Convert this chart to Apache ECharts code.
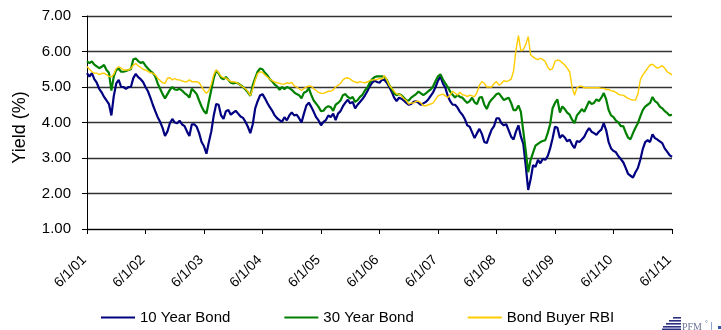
<!DOCTYPE html>
<html>
<head>
<meta charset="utf-8">
<script src="https://cdn.jsdelivr.net/npm/echarts@6/dist/echarts.min.js"></script>
<style>
  html, body { margin: 0; padding: 0; background: #fff; }
  #chart { width: 721px; height: 330px; }
</style>
</head>
<body>
<div id="chart"></div>
<script>
// Half-monthly yields (1st and 16th of each month), 6/1/2001 through 6/1/2011.
const startYear = 2001;
const startMonth = 6;

const tenYear = [
  5.39,5.29,5.39,5.22,5.12,4.95,4.85,4.72,4.62,4.52,4.2,4.75,5.1,5.2,5.0,5.0,4.95,5.0,5.0,5.25,5.37,5.28,5.22,5.14,
  5.0,4.88,4.7,4.5,4.32,4.15,4.02,3.85,3.62,3.75,3.98,4.1,4.0,3.98,4.05,3.95,3.9,3.75,3.62,3.95,3.95,3.88,3.7,3.45,
  3.33,3.12,3.45,3.75,4.2,4.52,4.5,4.2,4.1,4.32,4.35,4.22,4.28,4.33,4.25,4.17,4.13,4.02,3.88,3.7,3.95,4.4,4.6,4.76,
  4.8,4.68,4.55,4.43,4.33,4.2,4.12,4.07,4.02,4.15,4.06,4.2,4.28,4.2,4.22,4.12,4.0,4.25,4.48,4.56,4.44,4.3,4.15,4.06,
  3.92,4.02,4.07,4.2,4.15,4.25,4.07,4.25,4.32,4.46,4.56,4.64,4.54,4.58,4.4,4.5,4.58,4.66,4.76,4.88,5.02,5.12,5.18,5.14,
  5.12,5.2,5.2,5.12,5.0,4.87,4.7,4.6,4.7,4.67,4.62,4.55,4.5,4.52,4.58,4.6,4.55,4.5,4.54,4.58,4.65,4.75,4.85,5.0,
  5.18,5.3,5.1,4.98,4.75,4.6,4.5,4.5,4.42,4.3,4.22,4.1,3.92,3.88,3.72,3.56,3.7,3.82,3.68,3.45,3.42,3.62,3.8,3.9,
  4.12,4.12,3.98,3.92,3.95,3.78,3.6,3.52,3.75,3.92,3.6,3.4,2.78,2.1,2.4,2.8,2.75,2.95,2.85,2.98,2.95,3.05,3.27,3.55,
  3.88,3.85,3.56,3.65,3.58,3.47,3.52,3.38,3.28,3.48,3.45,3.52,3.6,3.74,3.84,3.74,3.7,3.65,3.74,3.8,3.98,3.78,3.45,3.27,
  3.2,3.16,3.05,2.97,2.88,2.72,2.55,2.5,2.45,2.6,2.72,2.95,3.25,3.45,3.5,3.45,3.67,3.56,3.52,3.47,3.42,3.27,3.18,3.08,
  3.03
];

const thirtyYear = [
  5.72,5.67,5.72,5.63,5.58,5.53,5.57,5.62,5.48,5.4,4.9,5.3,5.48,5.52,5.43,5.43,5.45,5.48,5.5,5.78,5.8,5.73,5.68,5.7,
  5.6,5.52,5.45,5.4,5.3,5.1,4.95,4.8,4.68,4.8,4.92,5.0,4.93,4.92,4.95,4.9,4.83,4.78,4.7,4.95,4.88,4.8,4.62,4.45,
  4.32,4.25,4.6,4.92,5.25,5.47,5.38,5.26,5.22,5.28,5.2,5.12,5.1,5.12,5.1,5.05,5.0,4.93,4.85,4.75,5.05,5.25,5.43,5.52,
  5.5,5.4,5.33,5.22,5.16,5.07,5.02,4.92,5.0,4.94,5.0,4.97,4.92,4.85,4.8,4.77,4.68,4.84,4.87,4.96,4.78,4.62,4.53,4.44,
  4.32,4.33,4.42,4.46,4.43,4.33,4.5,4.55,4.62,4.77,4.8,4.72,4.67,4.72,4.58,4.63,4.72,4.78,4.9,4.98,5.12,5.22,5.28,5.3,
  5.3,5.3,5.28,5.2,5.05,4.95,4.82,4.77,4.8,4.77,4.7,4.62,4.62,4.7,4.75,4.8,4.87,4.82,4.77,4.82,4.88,4.93,5.02,5.17,
  5.3,5.36,5.22,5.1,5.0,4.87,4.78,4.7,4.78,4.72,4.7,4.62,4.55,4.6,4.7,4.57,4.52,4.7,4.72,4.5,4.38,4.55,4.65,4.72,
  4.8,4.82,4.73,4.63,4.67,4.7,4.55,4.35,4.35,4.48,4.3,3.75,3.2,2.6,2.95,3.15,3.35,3.4,3.45,3.48,3.5,3.7,3.95,4.4,
  4.55,4.65,4.28,4.45,4.38,4.28,4.22,4.08,3.98,4.2,4.28,4.38,4.3,4.45,4.6,4.52,4.55,4.65,4.6,4.7,4.83,4.65,4.35,4.2,
  4.15,4.05,4.0,3.9,3.9,3.72,3.57,3.53,3.7,3.85,3.98,4.17,4.35,4.45,4.5,4.55,4.72,4.6,4.55,4.45,4.4,4.32,4.27,4.2,
  4.22
];

const bondBuyerRBI = [
  5.58,5.5,5.43,5.39,5.39,5.35,5.38,5.39,5.35,5.3,5.29,5.36,5.52,5.57,5.53,5.48,5.48,5.48,5.52,5.62,5.66,5.6,5.55,5.5,
  5.48,5.44,5.4,5.39,5.34,5.25,5.18,5.12,5.1,5.25,5.26,5.2,5.24,5.2,5.2,5.17,5.15,5.15,5.2,5.15,5.15,5.15,5.12,5.02,
  4.9,4.82,4.9,5.08,5.35,5.48,5.4,5.3,5.26,5.25,5.2,5.15,5.15,5.13,5.1,5.05,5.0,4.95,4.87,4.76,4.95,5.2,5.38,5.43,
  5.41,5.34,5.28,5.22,5.18,5.14,5.12,5.1,5.08,5.08,5.12,5.1,5.13,5.03,5.0,4.95,4.9,4.96,5.0,5.03,5.02,4.95,4.9,4.85,
  4.82,4.82,4.85,4.88,4.88,4.92,5.0,5.05,5.1,5.2,5.25,5.26,5.22,5.17,5.14,5.12,5.15,5.13,5.12,5.14,5.18,5.2,5.2,5.21,
  5.24,5.22,5.32,5.2,5.05,4.97,4.88,4.8,4.8,4.75,4.67,4.62,4.52,4.55,4.55,4.6,4.6,4.55,4.47,4.47,4.5,4.52,4.55,4.65,
  4.75,4.78,4.8,4.75,4.7,4.78,4.88,4.83,4.77,4.85,4.78,4.77,4.73,4.77,4.75,4.73,4.85,5.05,5.15,5.1,5.0,5.0,5.0,5.1,
  5.15,5.05,5.1,5.18,5.15,5.18,5.22,5.45,6.05,6.45,6.02,6.05,6.2,6.42,5.9,5.85,5.8,5.77,5.81,5.77,5.72,5.56,5.48,5.52,
  5.72,5.76,5.74,5.68,5.62,5.53,5.43,5.0,4.77,4.98,5.02,5.02,4.98,4.98,4.98,4.98,4.98,4.98,4.98,4.96,4.96,4.93,4.93,4.9,
  4.88,4.85,4.8,4.77,4.77,4.72,4.68,4.65,4.63,4.63,4.8,5.2,5.34,5.43,5.53,5.62,5.64,5.58,5.53,5.56,5.6,5.53,5.43,5.39,
  5.34
];

const seriesNames = ['10 Year Bond', '30 Year Bond', 'Bond Buyer RBI'];
const seriesColors = ['#000080', '#008000', '#FFCC00'];

// Observation dates: the 1st and the 16th of every month.
const dates = tenYear.map((_, i) => {
  const m0 = startMonth - 1 + Math.floor(i / 2);
  const y = startYear + Math.floor(m0 / 12);
  const m = (m0 % 12) + 1;
  const d = i % 2 === 0 ? 1 : 16;
  return y + '-' + String(m).padStart(2, '0') + '-' + String(d).padStart(2, '0');
});

const isAnniversary = (i) => i % 24 === 0;
const shortDate = (s) => {
  const [y, m, d] = s.split('-');
  return Number(m) + '/' + Number(d) + '/' + y.slice(2);
};

const font = '"Liberation Sans", Arial, sans-serif';
const chart = echarts.init(document.getElementById('chart'), null, { renderer: 'canvas' });

const stripe = '#2b3080';

chart.setOption({
  animation: false,
  backgroundColor: '#ffffff',
  grid: { left: 87, right: 49, top: 16, bottom: 101, containLabel: false },
  legend: {
    left: 101,
    top: 310,
    padding: 0,
    itemGap: 54,
    itemWidth: 34,
    itemHeight: 2,
    icon: 'rect',
    textStyle: { fontFamily: font, fontSize: 15, color: '#000' },
    data: seriesNames
  },
  xAxis: {
    type: 'category',
    data: dates,
    boundaryGap: false,
    axisLine: { lineStyle: { color: '#000', width: 1 } },
    axisTick: { show: true, interval: (i) => isAnniversary(i), length: 5, lineStyle: { color: '#000' } },
    axisLabel: {
      interval: (i) => isAnniversary(i),
      rotate: 45,
      margin: 26,
      padding: [0, 4, 0, 0],
      fontFamily: font,
      fontSize: 14,
      color: '#000',
      formatter: (v) => shortDate(v)
    },
    splitLine: { show: false }
  },
  yAxis: {
    type: 'value',
    min: 1,
    max: 7,
    interval: 1,
    name: 'Yield (%)',
    nameLocation: 'middle',
    nameGap: 58,
    nameTextStyle: { fontFamily: font, fontSize: 18, color: '#000', padding: [0, 10, 0, 0] },
    axisLine: { show: true, lineStyle: { color: '#000', width: 1 } },
    axisTick: { show: true, length: 5, lineStyle: { color: '#000' } },
    axisLabel: {
      margin: 16,
      fontFamily: font,
      fontSize: 15,
      color: '#000',
      formatter: (v) => v.toFixed(2)
    },
    splitLine: { show: true, lineStyle: { color: '#333', width: 1.3 } }
  },
  series: [
    { name: seriesNames[0], data: tenYear, width: 2.2 },
    { name: seriesNames[1], data: thirtyYear, width: 2.2 },
    { name: seriesNames[2], data: bondBuyerRBI, width: 1.4 }
  ].map((s, i) => ({
    name: s.name,
    type: 'line',
    data: s.data,
    showSymbol: false,
    symbol: 'none',
    color: seriesColors[i],
    lineStyle: { color: seriesColors[i], width: s.width },
    z: 2 + i
  })),
  graphic: [
    {
      type: 'group',
      left: 662,
      top: 317,
      children: [
        { type: 'rect', shape: { x: 11, y: 1, width: 8, height: 1.6 }, style: { fill: stripe } },
        { type: 'rect', shape: { x: 7, y: 4, width: 12, height: 1.6 }, style: { fill: stripe } },
        { type: 'rect', shape: { x: 4, y: 7, width: 15, height: 1.6 }, style: { fill: stripe } },
        { type: 'rect', shape: { x: 1, y: 10, width: 18, height: 1.6 }, style: { fill: stripe } },
        { type: 'rect', shape: { x: 0, y: 12.5, width: 19, height: 1.6 }, style: { fill: stripe } },
        { type: 'text', x: 20, y: 6, style: { text: 'PFM', fontFamily: '"Liberation Serif", serif', fontSize: 10, fill: '#6f7596' } },
        { type: 'text', x: 43, y: 4, style: { text: '°', fontFamily: '"Liberation Serif", serif', fontSize: 7, fill: '#6f7596' } },
        { type: 'rect', shape: { x: 49, y: 6, width: 1, height: 9 }, style: { fill: '#8fa6d6' } },
        { type: 'rect', shape: { x: 56, y: 10, width: 3, height: 3 }, style: { fill: '#3355aa' } }
      ]
    }
  ]
});
</script>
</body>
</html>
